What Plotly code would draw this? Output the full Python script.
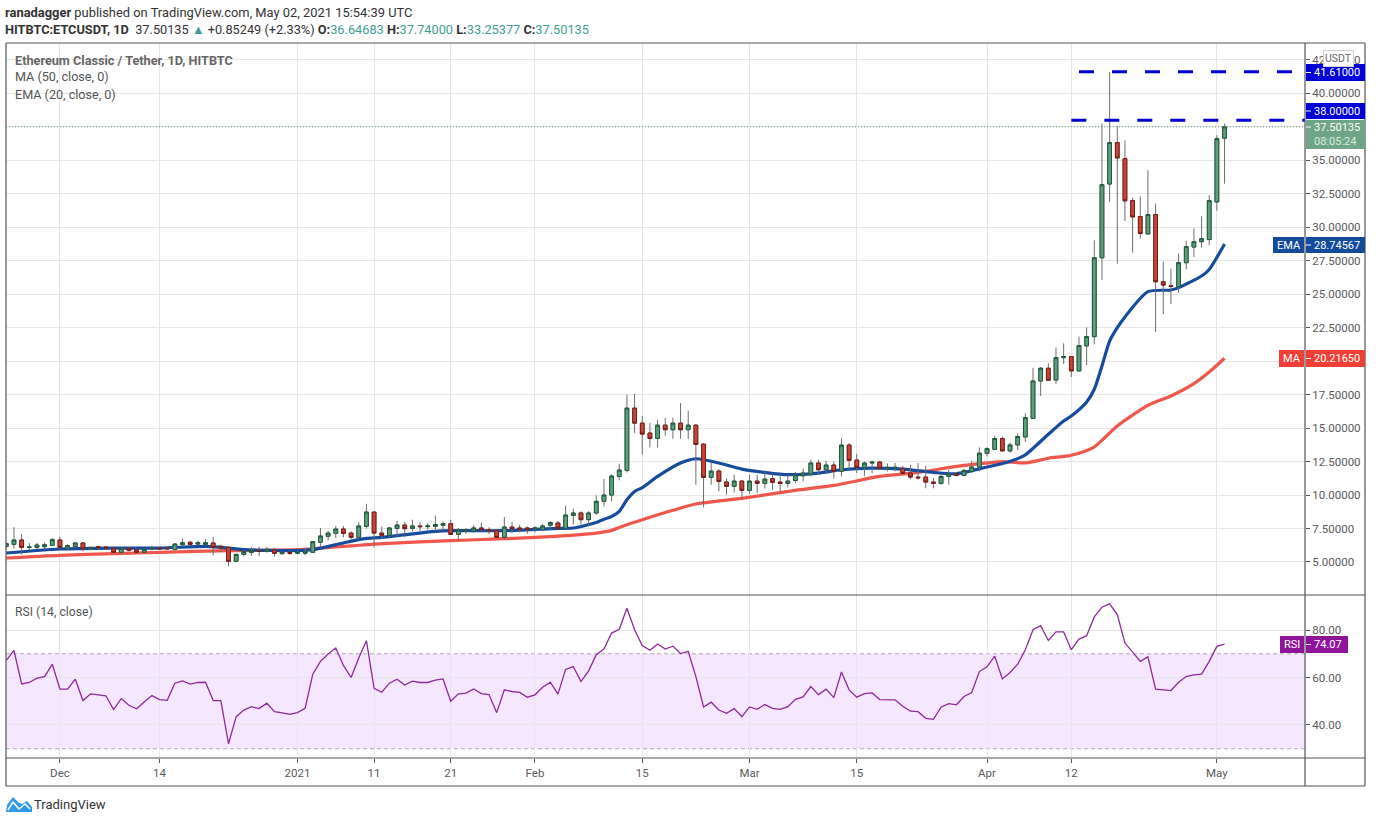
import pandas as pd
import plotly.graph_objects as go

W, H = 1376, 823
dates = pd.date_range("2020-11-24", "2021-05-02").strftime("%Y-%m-%d").tolist()

opens = [6.17,6.32,6.64,6.09,6.09,6.14,6.24,
 6.64,6.02,6.14,6.42,5.97,6.14,6.12,6.02,5.72,6.04,5.92,5.72,5.97,6.04,6.04,5.94,6.29,6.47,6.34,6.32,6.42,6.17,6.09,5.05,5.57,5.72,5.87,5.8,5.92,5.62,5.7,
 5.65,5.65,5.72,6.47,6.92,7.14,7.46,7.16,6.84,7.66,8.73,7.16,6.99,7.51,7.76,7.51,7.69,7.64,7.66,7.74,7.86,7.06,7.31,7.31,7.54,7.41,7.36,6.84,7.61,7.54,7.54,
 7.46,7.41,7.74,7.91,7.51,8.48,8.66,8.16,8.66,9.53,10.0,11.39,11.84,16.49,15.37,14.63,14.23,15.22,14.88,15.37,14.88,15.22,13.8,11.32,11.79,10.97,10.65,11.04,
 10.35,11.04,10.87,11.22,10.97,10.87,11.09,11.44,11.57,12.39,11.89,12.24,11.77,13.73,12.61,12.06,12.39,12.46,12.02,12.0,11.99,11.64,11.34,11.34,10.97,10.87,11.39,11.59,11.47,11.77,12.09,
 13.12,13.42,14.22,13.3,13.74,14.34,15.73,18.52,19.47,18.59,20.26,20.34,19.27,21.14,21.83,27.72,33.23,36.32,35.12,31.99,30.8,29.5,30.95,25.93,25.63,25.56,27.35,28.52,28.92,29.08,31.89,
 36.65]
highs = [6.45,7.6,7.1,6.42,6.42,6.46,6.8,
 6.87,6.34,6.5,6.47,6.14,6.22,6.17,6.07,6.09,6.12,6.02,5.99,6.22,6.09,6.19,6.42,6.74,6.59,6.59,6.72,6.87,6.29,6.17,5.62,5.87,6.12,6.14,6.14,6.04,5.8,5.87,
 5.87,5.97,6.57,7.54,7.31,7.69,7.69,7.29,7.98,9.35,8.73,7.64,7.61,8.06,7.98,8.16,7.96,7.91,8.46,8.03,8.16,7.54,7.54,7.76,7.94,7.59,7.41,8.36,7.98,7.79,7.66,
 7.66,7.86,8.06,8.06,9.2,8.98,8.78,8.8,9.98,11.2,11.54,12.34,17.49,17.56,15.92,15.4,15.62,15.77,15.77,16.87,16.29,15.3,13.88,12.39,11.94,11.24,11.52,11.14,
 11.52,11.52,11.77,11.59,11.59,11.49,11.72,11.97,12.64,12.64,12.56,12.49,14.25,13.88,13.08,12.51,12.51,12.56,12.36,12.39,12.19,12.26,12.39,12.19,11.27,11.52,11.89,11.69,11.94,12.56,13.56,
 13.57,14.41,14.37,13.92,14.59,16.1,19.5,19.56,19.84,21.03,21.33,20.39,21.83,22.52,29.02,37.74,41.6,37.54,36.49,32.21,32.31,34.25,31.77,27.43,26.9,28.05,28.97,29.91,30.82,32.39,36.87,
 37.74]
lows = [6.05,6.0,5.57,5.87,5.97,5.97,6.2,
 5.97,5.92,6.02,5.8,5.87,5.92,5.97,5.67,5.67,5.77,5.7,5.7,5.87,5.94,5.94,5.87,6.24,6.24,6.27,6.24,5.5,5.72,4.68,4.97,5.42,5.47,5.45,5.7,5.4,5.57,5.52,
 5.57,5.5,5.7,6.17,6.62,6.79,6.84,6.62,6.72,7.49,6.09,6.72,6.84,6.84,6.84,7.29,7.29,7.41,7.29,7.36,7.04,6.59,7.11,7.16,7.21,7.09,6.82,6.79,7.16,7.21,7.11,
 7.21,7.29,7.41,7.41,7.46,7.79,7.79,7.66,8.53,9.15,9.53,11.1,11.69,14.63,13.03,13.56,13.56,14.43,14.2,14.2,14.18,10.77,9.08,10.77,10.27,10.02,10.2,9.7,
 10.1,10.15,10.5,10.4,10.25,10.57,10.9,11.02,11.39,11.52,11.57,11.24,11.39,11.89,11.64,11.44,11.64,11.94,11.77,11.77,11.52,11.19,11.14,10.5,10.5,10.77,10.77,11.39,11.39,11.64,11.77,
 12.87,13.37,13.25,13.17,13.37,13.97,15.66,17.4,18.52,18.3,19.79,18.82,19.27,19.71,21.26,26.05,31.89,27.28,30.47,28.1,29.15,29.45,22.18,23.52,24.27,25.1,26.85,27.77,28.47,28.66,31.22,
 33.25]
closes = [6.37,6.64,6.09,6.12,6.27,6.29,6.67,
 6.09,6.22,6.42,5.97,6.09,6.07,6.04,5.72,6.02,5.87,5.72,5.94,6.02,5.99,5.99,6.34,6.44,6.32,6.44,6.44,6.09,6.04,5.05,5.57,5.77,5.87,5.8,5.94,5.65,5.72,5.65,
 5.72,5.8,6.52,6.94,7.16,7.46,7.14,6.84,7.69,8.73,7.16,6.99,7.54,7.76,7.49,7.69,7.64,7.69,7.79,7.86,7.06,7.39,7.36,7.54,7.41,7.31,6.84,7.61,7.49,7.46,7.41,
 7.54,7.69,7.94,7.51,8.51,8.66,8.16,8.66,9.53,10.0,11.42,11.87,16.49,15.37,14.55,14.23,15.22,14.88,15.37,14.88,15.22,13.78,11.32,11.79,11.02,10.65,11.04,10.35,
 11.04,10.87,11.19,10.95,10.87,11.04,11.52,11.64,12.39,11.89,12.24,11.77,13.73,12.59,12.06,12.39,12.46,11.99,12.06,12.07,11.62,11.34,11.29,10.97,10.87,11.39,11.59,11.47,11.84,12.09,13.13,
 13.47,14.22,13.3,13.74,14.37,15.78,18.52,19.47,18.57,20.26,20.34,19.27,21.16,21.83,27.72,33.18,36.32,35.17,31.97,30.77,29.53,30.95,25.93,25.68,25.58,27.35,28.55,28.92,29.14,31.99,36.62,
 37.5]

ma_dates = ["2020-11-24","2020-12-01","2020-12-08","2020-12-14","2020-12-23","2021-01-01","2021-01-04","2021-01-08","2021-01-11","2021-01-21","2021-01-28","2021-02-01","2021-02-05","2021-02-09","2021-02-11","2021-02-13","2021-02-15","2021-02-19","2021-02-22","2021-02-28","2021-03-07","2021-03-12","2021-03-18","2021-03-23","2021-03-28","2021-04-01","2021-04-03","2021-04-06","2021-04-09","2021-04-12","2021-04-15","2021-04-18","2021-04-22","2021-04-25","2021-04-28","2021-04-30","2021-05-02"]
ma_values = [5.3,5.5,5.62,5.72,5.85,5.92,6.04,6.2,6.34,6.59,6.74,6.84,6.97,7.16,7.36,7.79,8.16,8.86,9.33,9.75,10.35,10.72,11.39,11.69,12.14,12.39,12.5,12.4,12.75,12.97,13.6,15.16,16.7,17.4,18.32,19.19,20.22]

ema_dates = ["2020-11-24","2020-12-01","2020-12-08","2020-12-14","2020-12-20","2020-12-22","2020-12-25","2021-01-01","2021-01-03","2021-01-07","2021-01-09","2021-01-10","2021-01-12","2021-01-15","2021-01-19","2021-01-21","2021-01-28","2021-02-04","2021-02-06","2021-02-09","2021-02-10","2021-02-11","2021-02-12","2021-02-13","2021-02-14","2021-02-15","2021-02-17","2021-02-20","2021-02-22","2021-02-25","2021-02-28","2021-03-03","2021-03-06","2021-03-10","2021-03-13","2021-03-17","2021-03-21","2021-03-25","2021-03-28","2021-04-01","2021-04-03","2021-04-05","2021-04-06","2021-04-09","2021-04-11","2021-04-12","2021-04-14","2021-04-15","2021-04-16","2021-04-17","2021-04-18","2021-04-19","2021-04-22","2021-04-25","2021-04-26","2021-04-29","2021-04-30","2021-05-02"]
ema_values = [5.67,5.97,6.04,6.04,6.17,6.09,5.92,5.85,5.92,6.42,6.67,6.77,6.84,7.04,7.29,7.34,7.34,7.51,7.54,7.95,8.2,8.4,8.78,9.65,10.27,10.55,11.39,12.39,12.71,12.39,11.94,11.69,11.52,11.64,11.89,12.01,11.94,11.69,11.59,12.09,12.35,12.72,13.0,14.54,15.53,15.9,16.95,17.9,19.64,21.5,22.5,23.3,25.19,25.31,25.49,26.36,26.85,28.75]

rsi_values = [67.2,71.4,57.3,57.9,59.7,60.4,65.6,
 55.1,55.1,59.3,50.3,53.1,52.7,52.3,46.5,51.1,48.3,46.8,49.7,52.4,50.7,50.4,57.6,58.6,57.2,57.9,58.0,50.3,50.3,32.1,43.5,46.3,47.7,46.9,49.2,45.6,45.1,44.5,
 45.2,47.0,61.4,66.8,69.9,72.4,65.1,60.0,68.2,75.5,55.4,53.8,57.6,59.3,56.8,58.5,57.9,57.9,58.9,59.4,50.0,53.1,53.4,55.2,53.2,52.8,45.2,54.8,54.1,53.7,51.7,
 52.7,55.9,58.0,53.0,63.4,64.6,58.3,62.8,69.6,72.0,78.7,80.3,89.2,80.1,73.5,71.5,74.1,72.0,73.2,70.1,71.0,60.4,47.6,49.6,46.3,44.9,46.9,43.5,
 47.6,46.6,48.6,47.0,46.6,47.7,50.8,51.8,56.2,52.8,55.1,51.5,62.3,54.8,51.7,53.2,53.5,50.7,50.6,50.6,47.9,45.8,45.6,42.8,42.4,47.5,49.0,48.5,52.0,53.7,62.5,
 64.5,69.0,59.4,62.1,65.6,71.7,80.1,81.8,75.6,79.2,79.2,71.7,76.2,77.6,85.5,89.6,91.0,86.5,74.5,70.7,66.8,68.7,55.1,54.8,54.5,58.0,60.4,61.1,61.4,66.8,73.1,
 74.07]

xtick_dates = ["2020-12-01","2020-12-14","2021-01-01","2021-01-11","2021-01-21","2021-02-01","2021-02-15","2021-03-01","2021-03-15","2021-04-01","2021-04-12","2021-05-01"]
xtick_text = ["Dec","14","2021","11","21","Feb","15","Mar","15","Apr","12","May"]
price_ticks = [5+2.5*i for i in range(16)]
covered_ticks = [20.0, 37.5]   # their labels lie behind the MA and last-price tags
price_tick_text = ["" if t in covered_ticks else f"{t:.5f}" for t in price_ticks]
rsi_ticks = [40,60,80]
resistance_high = 41.61
resistance_low = 38.0
last_close = 37.50135
x_range = ["2020-11-23 23:00","2021-05-12 12:00"]
y_range = [2.535,43.76]
FONT = "Roboto"
GRID = "#e6e6e6"
TXT = "#5a5a5a"
FRAME = "#555555"

def px(x): return x/W
def py(y): return 1-y/H

body_hi = [max(o,c) for o,c in zip(opens,closes)]
body_lo = [min(o,c) for o,c in zip(opens,closes)]

fig = go.Figure()
fig.add_trace(go.Scatter(x=ma_dates,y=ma_values,xaxis="x",yaxis="y",mode="lines",line=dict(color="#ef4f43",width=3.2,shape="spline",smoothing=0.7),opacity=.95,showlegend=False))
fig.add_trace(go.Scatter(x=ema_dates,y=ema_values,xaxis="x",yaxis="y",mode="lines",line=dict(color="#164b9d",width=3.2,shape="spline",smoothing=0.7),showlegend=False))
fig.add_trace(go.Candlestick(x=dates,open=opens,high=highs,low=lows,close=closes,xaxis="x",yaxis="y3",whiskerwidth=0,
    increasing=dict(line=dict(color="#6e6e6e",width=1),fillcolor="rgba(0,0,0,0)"),
    decreasing=dict(line=dict(color="#6e6e6e",width=1),fillcolor="rgba(0,0,0,0)"),showlegend=False))
fig.add_trace(go.Candlestick(x=dates,open=opens,high=body_hi,low=body_lo,close=closes,xaxis="x",yaxis="y3",whiskerwidth=0,
    increasing=dict(line=dict(color="#1e5a3c",width=1),fillcolor="#5f9e7d"),
    decreasing=dict(line=dict(color="#761c14",width=1),fillcolor="#c8443a"),showlegend=False))
fig.add_trace(go.Scatter(x=x_range,y=[last_close,last_close],xaxis="x",yaxis="y3",mode="lines",line=dict(color="#5f9e7d",width=1,dash="1px,2px"),showlegend=False))
fig.add_trace(go.Scatter(x=["2021-04-13","2021-05-10 20:00"],y=[resistance_high]*2,xaxis="x",yaxis="y3",mode="lines",line=dict(color="#0000d4",width=3,dash="15px,18px"),showlegend=False))
fig.add_trace(go.Scatter(x=["2021-04-12",x_range[1]],y=[resistance_low]*2,xaxis="x",yaxis="y3",mode="lines",line=dict(color="#0000d4",width=3,dash="15px,18px"),showlegend=False))
fig.add_trace(go.Scatter(x=dates,y=rsi_values,xaxis="x2",yaxis="y2",mode="lines",line=dict(color="#8e2a9c",width=1.3),showlegend=False))

shapes = []
shapes.append(dict(type="rect",xref="x2 domain",yref="y2",x0=0,x1=1,y0=30,y1=70,fillcolor="rgba(180,70,255,0.13)",line_width=0,layer="below"))
for lv in (30,70):
    shapes.append(dict(type="line",xref="x2 domain",yref="y2",x0=0,x1=1,y0=lv,y1=lv,line=dict(color="#b3a9b8",width=1,dash="4px,3px"),layer="below"))
for (x0,y0,x1,y1) in [(6,43,1365,43),(6,786,1365,786),(6,43,6,786),(1365,43,1365,786),(1305,43,1305,786),(6,595,1365,595),(6,758,1365,758)]:
    shapes.append(dict(type="line",xref="paper",yref="paper",x0=px(x0),x1=px(x1),y0=py(y0),y1=py(y1),line=dict(color=FRAME,width=1.2)))

def box(x0,y0,x1,y1,col):
    shapes.append(dict(type="rect",xref="paper",yref="paper",x0=px(x0),x1=px(x1),y0=py(y0),y1=py(y1),fillcolor=col,line_width=0))

annos = []
def text(x,y,s,color=TXT,size=11,anchor="left",font=FONT,**kw):
    annos.append(dict(xref="paper",yref="paper",x=px(x-2 if anchor=="left" else x),y=py(y),text=s,showarrow=False,xanchor=anchor,yanchor="middle",
        font=dict(family=font,size=size,color=color),**kw))

def label(y0,y1,col,val,tag=None,tag_x=None):
    box(1306,y0,1365 if tag!="RSI" else 1348,y1,col)
    shapes.append(dict(type="line",xref="paper",yref="paper",x0=px(1306),x1=px(1311),y0=py((y0+y1)/2),y1=py((y0+y1)/2),line=dict(color="white",width=1)))
    text(1314,(y0+y1)/2,val,"white",11)
    if tag:
        box(tag_x,y0,1304,y1,col)
        text((tag_x+1304)/2,(y0+y1)/2,tag,"white",11,anchor="center")

label(64,81,"#0000d8","41.61000")
label(103,119,"#0000d8","38.00000")
box(1306,120,1365,149,"#6fa587")
shapes.append(dict(type="line",xref="paper",yref="paper",x0=px(1306),x1=px(1311),y0=py(127),y1=py(127),line=dict(color="white",width=1)))
text(1314,128,"37.50135","white",11)
text(1314,141,"08:05:24","#dcebe2",11)
label(237,253,"#134a9c","28.74567","EMA",1273)
label(350,367,"#ef3f36","20.21650","MA",1279)
label(636,653,"#8e1599","74.07","RSI",1280)

text(1338,59,"USDT","#666666",10.5,anchor="center",bgcolor="white",bordercolor="#d0d0d0",borderwidth=1,borderpad=1)

text(5,13,'<b>ranadagger</b> published on TradingView.com, May 02, 2021 15:54:39 UTC',"#333333",12.9)
teal="#3f9e93"
text(5,29,f'<b>HITBTC:ETCUSDT, 1D</b>  37.50135 <span style="color:{teal}">▲</span> +0.85249 (+2.33%) <b>O:</b><span style="color:{teal}">36.64683</span> <b>H:</b><span style="color:{teal}">37.74000</span> <b>L:</b><span style="color:{teal}">33.25377</span> <b>C:</b><span style="color:{teal}">37.50135</span>',"#333333",12.75)
text(15,60,"<b>Ethereum Classic / Tether, 1D, HITBTC</b>","#666666",12.7)
text(15,77,"MA (50, close, 0)","#555555",12.6)
text(15,94,"EMA (20, close, 0)","#555555",12.6)
text(15,612,"RSI (14, close)","#555555",12.2)
text(34,804,"TradingView","#333333",13)

def P(pts): return "M"+" L".join(f"{px(a):.5f},{py(b):.5f}" for a,b in pts)+" Z"
shapes.append(dict(type="path",xref="paper",yref="paper",path=P([(6,812),(7,805),(13,797),(18,802),(22,804),(27,801),(32,807),(32,812)]),fillcolor="#2f9be8",line_width=0))
shapes.append(dict(type="path",xref="paper",yref="paper",path="M"+" L".join(f"{px(a):.5f},{py(b):.5f}" for a,b in [(8,810),(13,802),(19,809),(25,804),(30,809)]),line=dict(color="white",width=1.5)))

fig.update_layout(
    width=W,height=H,margin=dict(l=0,r=0,t=0,b=0),paper_bgcolor="white",plot_bgcolor="white",
    font=dict(family=FONT,size=11,color=TXT),showlegend=False,shapes=shapes,annotations=annos,
    xaxis=dict(domain=[px(6),px(1305)],type="date",range=x_range,tickvals=xtick_dates,showticklabels=False,showgrid=True,gridcolor=GRID,gridwidth=1,
        rangeslider=dict(visible=False),anchor="y",zeroline=False,ticks=""),
    xaxis2=dict(domain=[px(6),px(1305)],type="date",range=x_range,tickvals=xtick_dates,ticktext=xtick_text,showgrid=True,gridcolor=GRID,gridwidth=1,
        anchor="y2",ticks="outside",ticklen=4,tickcolor=FRAME,tickfont=dict(family=FONT,size=11.5,color=TXT),zeroline=False),
    yaxis=dict(domain=[py(595),py(43)],range=y_range,side="right",tickvals=price_ticks,ticktext=price_tick_text,showgrid=True,gridcolor=GRID,
        ticks="outside",ticklen=4,tickcolor=FRAME,tickfont=dict(family=FONT,size=11.5,color=TXT),zeroline=False,anchor="x"),
    yaxis3=dict(overlaying="y",range=y_range,side="right",showgrid=False,showticklabels=False,zeroline=False,anchor="x",ticks=""),
    yaxis2=dict(domain=[py(758),py(595)],range=[26.1,94.74],side="right",tickvals=rsi_ticks,tickformat=".2f",showgrid=True,gridcolor=GRID,
        ticks="outside",ticklen=4,tickcolor=FRAME,tickfont=dict(family=FONT,size=11.5,color=TXT),zeroline=False,anchor="x2"),
)
fig.write_html("out.html",config=dict(displayModeBar=False),
    post_script="document.body.style.margin='0';document.body.style.overflow='hidden';")
